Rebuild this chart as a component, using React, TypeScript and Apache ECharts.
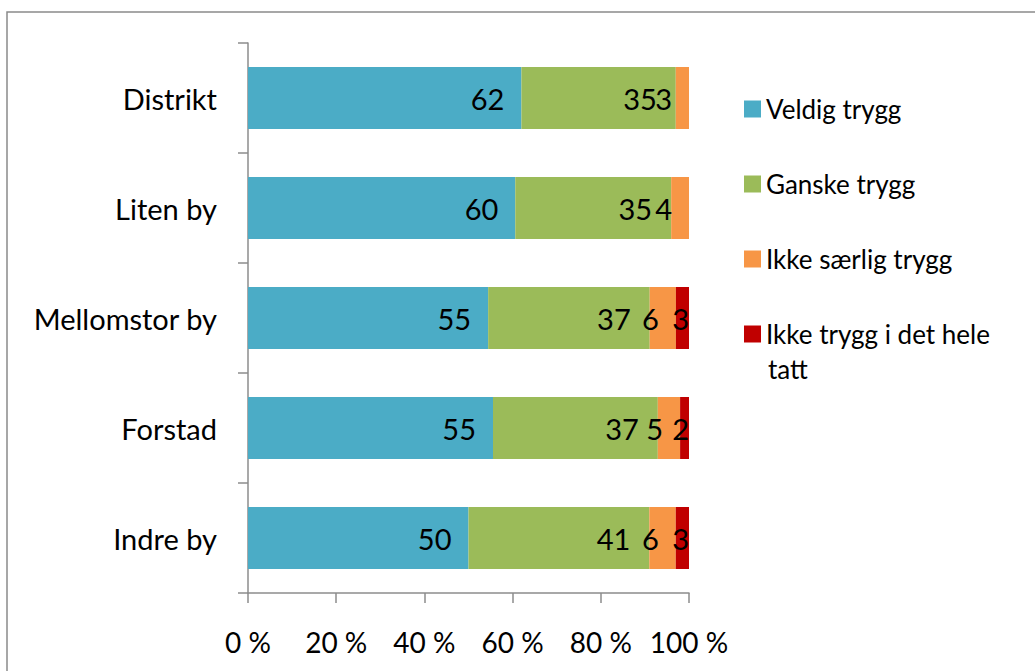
import React, { useEffect, useRef } from "react";
import * as echarts from "echarts";

const categories = ["Distrikt", "Liten by", "Mellomstor by", "Forstad", "Indre by"];
const seriesNames = ["Veldig trygg", "Ganske trygg", "Ikke særlig trygg", "Ikke trygg i det hele tatt"];
const veldigTrygg = [62, 60, 55, 55, 50];
const ganskeTrygg = [35, 35, 37, 37, 41];
const ikkeSaerligTrygg = [3, 4, 6, 5, 6];
const ikkeTrygg = [0, 0, 3, 2, 3];
const colors = ["#4BACC6", "#9BBB59", "#F79646", "#C00000"];
const xTicks = [0, 20, 40, 60, 80, 100];

const FONT = "Lato, 'Open Sans', sans-serif";
const labelDistances = [17, 19, 17, 0];

export default function App() {
  const ref = useRef<HTMLDivElement>(null);
  useEffect(() => {
    if (!ref.current) return;
    const chart = echarts.init(ref.current, undefined, { renderer: "svg" });
    const raw = [veldigTrygg, ganskeTrygg, ikkeSaerligTrygg, ikkeTrygg];
    const totals = categories.map((_, i) => raw.reduce((s, arr) => s + arr[i], 0));
    const series = raw.map((arr, si) => ({
      name: seriesNames[si],
      type: "bar",
      stack: "total",
      barWidth: 62,
      itemStyle: { color: colors[si] },
      data: arr.map((v, i) => ({ value: (v / totals[i]) * 100, raw: v })),
      label: {
        show: true,
        position: "insideRight",
        distance: labelDistances[si],
        color: "#000",
        fontFamily: FONT,
        fontSize: 29,
        formatter: (p: any) => (p.data.raw === 0 ? "" : String(p.data.raw)),
      },
    }));
    chart.setOption({
      animation: false,
      backgroundColor: "#fff",
      grid: { left: 248, right: 346, top: 43, bottom: 78, containLabel: false },
      xAxis: {
        type: "value",
        min: xTicks[0],
        max: xTicks[xTicks.length - 1],
        interval: 20,
        axisLine: { show: true, lineStyle: { color: "#8c8c8c", width: 1.5 } },
        axisTick: { show: true, length: 10, lineStyle: { color: "#8c8c8c", width: 1.5 } },
        splitLine: { show: false },
        axisLabel: {
          formatter: "{value} %",
          color: "#000",
          fontFamily: FONT,
          fontSize: 28,
          margin: 35,
        },
      },
      yAxis: {
        type: "category",
        data: categories,
        inverse: true,
        axisLine: { show: true, lineStyle: { color: "#8c8c8c", width: 1.5 } },
        axisTick: { show: true, length: 10, lineStyle: { color: "#8c8c8c", width: 1.5 } },
        axisLabel: {
          color: "#000",
          fontFamily: FONT,
          fontSize: 29,
          margin: 31,
        },
      },
      legend: {
        orient: "vertical",
        left: 739,
        top: 89,
        itemWidth: 17,
        itemHeight: 17,
        itemGap: 45,
        itemTextGap: 7,
        icon: "rect",
        data: seriesNames,
        formatter: (name: string) => (name === seriesNames[3] ? "Ikke trygg i det hele" : name),
        textStyle: { color: "#000", fontFamily: FONT, fontSize: 26, lineHeight: 30 },
      },
      graphic: [
        {
          type: "rect",
          shape: { x: 7, y: 12, width: 1040, height: 680 },
          style: { fill: "none", stroke: "#8a8a8a", lineWidth: 1.5 },
          silent: true,
        },
        {
          type: "text",
          left: 768,
          top: 356,
          style: { text: "tatt", fill: "#000", font: `26px ${FONT}` },
        },
      ],
      series,
    });
    return () => chart.dispose();
  }, []);
  return (
    <div
      ref={ref}
      style={{ position: "fixed", left: 0, top: 0, width: 1035, height: 671 }}
    />
  );
}
